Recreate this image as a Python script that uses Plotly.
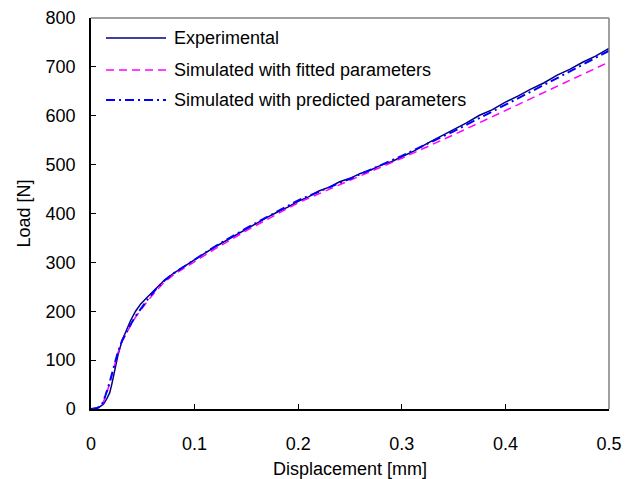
import plotly.graph_objects as go

# Experimental data
exp_x = [0, 0.004, 0.008, 0.012, 0.015, 0.018, 0.020, 0.023, 0.026, 0.030, 0.034, 0.038,
         0.043, 0.048, 0.055, 0.063, 0.071, 0.080, 0.090, 0.100, 0.110, 0.120, 0.130, 0.140,
         0.150, 0.160, 0.170, 0.180, 0.190, 0.200, 0.210, 0.220, 0.230, 0.240, 0.250, 0.260,
         0.270, 0.280, 0.290, 0.300, 0.312, 0.325, 0.337, 0.350, 0.362, 0.375, 0.387, 0.400,
         0.412, 0.425, 0.437, 0.450, 0.462, 0.475, 0.487, 0.500]
exp_y = [0, 1, 4, 10, 20, 33, 50, 80, 110, 140, 160, 180,
         200, 215, 230, 248, 264, 278, 292, 305, 319, 332, 344, 357,
         369, 380, 392, 403, 413, 425, 434, 446, 454, 465, 472, 482,
         489, 499, 506, 516, 528, 544, 557, 572, 585, 601, 612, 628,
         640, 655, 667, 683, 695, 710, 722, 738]

# Simulated with fitted parameters
fit_x = [0, 0.006, 0.010, 0.014, 0.018, 0.022, 0.026, 0.030, 0.034, 0.038, 0.043, 0.048,
         0.055, 0.063, 0.071, 0.080, 0.100, 0.120, 0.150, 0.200, 0.250, 0.300, 0.350,
         0.400, 0.450, 0.500]
fit_y = [0, 2, 5, 25, 52, 85, 115, 138, 155, 170, 188, 203,
         222, 242, 260, 275, 302, 328, 365, 422, 468, 513, 561,
         611, 661, 710]

# Simulated with predicted parameters
pred_x = [0, 0.006, 0.010, 0.014, 0.018, 0.022, 0.026, 0.030, 0.034, 0.038, 0.043, 0.048,
          0.055, 0.063, 0.071, 0.080, 0.100, 0.120, 0.150, 0.200, 0.250, 0.300, 0.350,
          0.400, 0.450, 0.500]
pred_y = [0, 2, 6, 28, 55, 88, 117, 140, 157, 172, 190, 205,
          225, 246, 263, 278, 306, 333, 370, 427, 471, 518, 568,
          622, 677, 733]

series_names = ["Experimental", "Simulated with fitted parameters",
                "Simulated with predicted parameters"]
series_lines = [dict(color="#000080", width=1.5),
                dict(color="#ff00ff", width=1.5, dash="8px,5px"),
                dict(color="#0000ff", width=2, dash="9px,4px,2px,4px")]
series_data = [(exp_x, exp_y), (fit_x, fit_y), (pred_x, pred_y)]

fig = go.Figure()
for (sx, sy), nm, ln in zip(series_data, series_names, series_lines):
    fig.add_trace(go.Scatter(x=sx, y=sy, mode="lines", name=nm, line=ln, showlegend=False))

font = dict(family="Liberation Sans, Arial, sans-serif", size=18, color="#000000")

# Hand-built legend (longer sample lines, like the original)
legend_rows_y = [0.9488, 0.867, 0.790]
shapes = [
    dict(type="line", xref="paper", yref="paper", x0=0, x1=1, y0=1, y1=1,
         line=dict(color="#808080", width=1.5)),
    dict(type="line", xref="paper", yref="paper", x0=1, x1=1, y0=0, y1=1,
         line=dict(color="#808080", width=1.5)),
]
annotations = []
for yy, nm, ln in zip(legend_rows_y, series_names, series_lines):
    shapes.append(dict(type="line", xref="paper", yref="paper", x0=0.029, x1=0.1448,
                       y0=yy, y1=yy, line=ln))
    annotations.append(dict(xref="paper", yref="paper", x=0.1564, y=yy, text=nm,
                            showarrow=False, xanchor="left", yanchor="middle", font=font))

fig.update_layout(
    width=632, height=479,
    margin=dict(l=91, r=23, t=18, b=70, autoexpand=False),
    paper_bgcolor="white", plot_bgcolor="white",
    font=font,
    showlegend=False,
    xaxis=dict(range=[0, 0.5], tickvals=[0, 0.1, 0.2, 0.3, 0.4, 0.5],
               ticktext=["0", "0.1", "0.2", "0.3", "0.4", "0.5"],
               ticks="inside", ticklen=5, tickcolor="black", showgrid=False, zeroline=False,
               showline=True, linecolor="black", linewidth=1.5, mirror=False,
               ticklabelstandoff=18, automargin=False,
               title=dict(text="Displacement [mm]", font=font, standoff=12)),
    yaxis=dict(range=[0, 800], tickvals=[0, 100, 200, 300, 400, 500, 600, 700, 800],
               ticks="inside", ticklen=5, tickcolor="black", showgrid=False, zeroline=False,
               showline=True, linecolor="black", linewidth=1.5, mirror=False,
               ticklabelstandoff=10, automargin=False,
               title=dict(text="Load [N]", font=font, standoff=10)),
    shapes=shapes,
    annotations=annotations,
)
fig.write_html("out.html")
